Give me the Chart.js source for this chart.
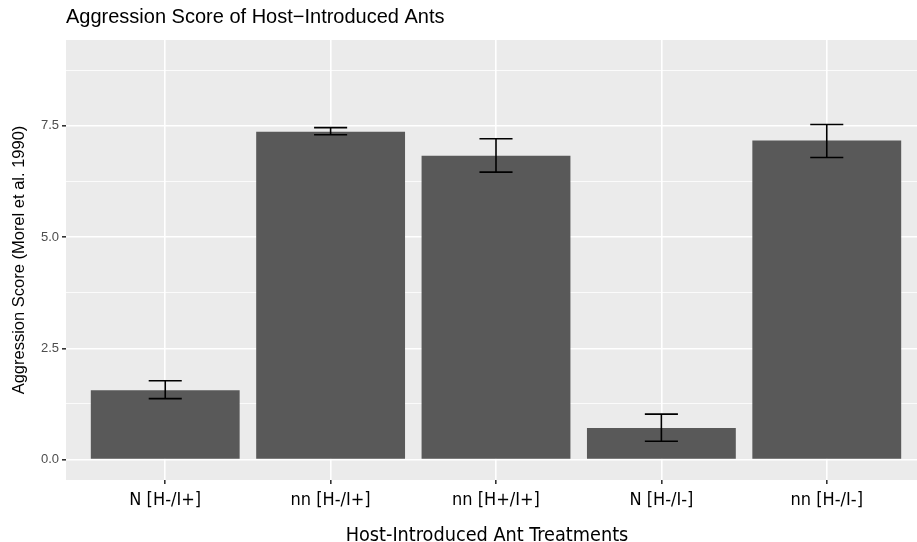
<!DOCTYPE html>
<html>
<head>
<meta charset="utf-8">
<script src="https://cdn.jsdelivr.net/npm/chart.js@4"></script>
<style>
html,body{margin:0;padding:0;background:#fff;overflow:hidden;}
#wrap{width:926px;height:542px;}
</style>
</head>
<body>
<div id="wrap"><canvas id="c" width="926" height="542"></canvas></div>
<script>
const categories = ["N [H-/I+]", "nn [H-/I+]", "nn [H+/I+]", "N [H-/I-]", "nn [H-/I-]"];
const meanScore = [1.56, 7.37, 6.83, 0.71, 7.17];
const errUpper = [1.77, 7.46, 7.21, 1.02, 7.53];
const errLower = [1.37, 7.30, 6.46, 0.41, 6.79];
const yMajorTicks = [0, 2.5, 5.0, 7.5];
const yMinorTicks = [1.25, 3.75, 6.25, 8.75];
const chartTitle = "Aggression Score of Host\u2212Introduced Ants";
const xTitle = "Host-Introduced Ant Treatments";
const yTitle = "Aggression Score (Morel et al. 1990)";

const condensed = "'DejaVu Sans Condensed', 'Liberation Sans Narrow', sans-serif";

const panelBg = {
  id: 'panelBg',
  beforeDraw(chart) {
    const {ctx, chartArea: a} = chart;
    ctx.save();
    ctx.fillStyle = '#EBEBEB';
    ctx.fillRect(a.left, a.top, a.right - a.left, a.bottom - a.top);
    ctx.restore();
  }
};

const titlePlugin = {
  id: 'ggTitle',
  afterDraw(chart) {
    const {ctx, chartArea: a} = chart;
    ctx.save();
    ctx.fillStyle = '#000';
    ctx.font = "20px 'Liberation Sans', Arial, sans-serif";
    ctx.textBaseline = 'alphabetic';
    ctx.textAlign = 'left';
    ctx.fillText(chartTitle, a.left, 23);
    ctx.font = "19.7px " + condensed;
    ctx.textAlign = 'center';
    ctx.fillText(xTitle, 487, 540.5);
    ctx.restore();
  }
};

const errorBars = {
  id: 'errorBars',
  afterDatasetsDraw(chart) {
    const {ctx} = chart;
    const xs = chart.scales.x, ys = chart.scales.y;
    const half = (xs.getPixelForValue(1.1) - xs.getPixelForValue(1));
    ctx.save();
    ctx.strokeStyle = '#000';
    ctx.lineWidth = 1.6;
    ctx.lineCap = 'butt';
    for (let i = 0; i < categories.length; i++) {
      const x = xs.getPixelForValue(i + 1);
      const yt = ys.getPixelForValue(errUpper[i]);
      const yb = ys.getPixelForValue(errLower[i]);
      ctx.beginPath();
      ctx.moveTo(x, yt); ctx.lineTo(x, yb);
      ctx.moveTo(x - half, yt); ctx.lineTo(x + half, yt);
      ctx.moveTo(x - half, yb); ctx.lineTo(x + half, yb);
      ctx.stroke();
    }
    ctx.restore();
  }
};

new Chart(document.getElementById('c'), {
  type: 'bar',
  data: {
    datasets: [{
      data: meanScore.map((v, i) => ({x: i + 1, y: v})),
      backgroundColor: '#595959',
      borderWidth: 0,
      categoryPercentage: 0.9,
      barPercentage: 1.0
    }]
  },
  options: {
    responsive: false,
    animation: false,
    events: [],
    layout: {padding: {top: 40, left: 0, right: 0, bottom: 0}},
    plugins: {legend: {display: false}, tooltip: {enabled: false}, title: {display: false}},
    scales: {
      x: {
        type: 'linear',
        min: 0.4, max: 5.6,
        offset: false,
        grid: {offset: false, color: '#FFFFFF', lineWidth: 1.6, tickColor: '#333333', tickLength: 4, drawTicks: true},
        border: {display: false},
        afterBuildTicks(scale) { scale.ticks = categories.map((c, i) => ({value: i + 1})); },
        afterFit(scale) { scale.height = 62; },
        ticks: {
          autoSkip: false, maxRotation: 0,
          padding: 6,
          color: '#000',
          font: {family: condensed, size: 18},
          callback: (v) => categories[Math.round(v) - 1] || ''
        },
        title: {display: false}
      },
      y: {
        type: 'linear',
        min: -0.46, max: 9.43,
        grid: {
          color: '#FFFFFF',
          lineWidth: (ctx) => (ctx.tick && yMajorTicks.includes(ctx.tick.value)) ? 1.6 : 0.8,
          tickColor: (ctx) => (ctx.tick && yMajorTicks.includes(ctx.tick.value)) ? '#333333' : 'rgba(0,0,0,0)',
          tickLength: 4
        },
        border: {display: false},
        afterBuildTicks(scale) {
          scale.ticks = yMajorTicks.concat(yMinorTicks).sort((a, b) => a - b).map(v => ({value: v}));
        },
        afterFit(scale) { scale.width = 66; },
        ticks: {
          autoSkip: false,
          padding: 3,
          color: '#4D4D4D',
          font: {family: "'Liberation Sans', Arial, sans-serif", size: 13},
          callback: (v) => yMajorTicks.includes(v) ? v.toFixed(1) : ''
        },
        title: {
          display: true, text: yTitle, color: '#000',
          font: {family: "'Liberation Sans', Arial, sans-serif", size: 16.5},
          padding: {top: 10, bottom: 0}
        }
      }
    }
  },
  plugins: [panelBg, titlePlugin, errorBars]
});
</script>
</body>
</html>
